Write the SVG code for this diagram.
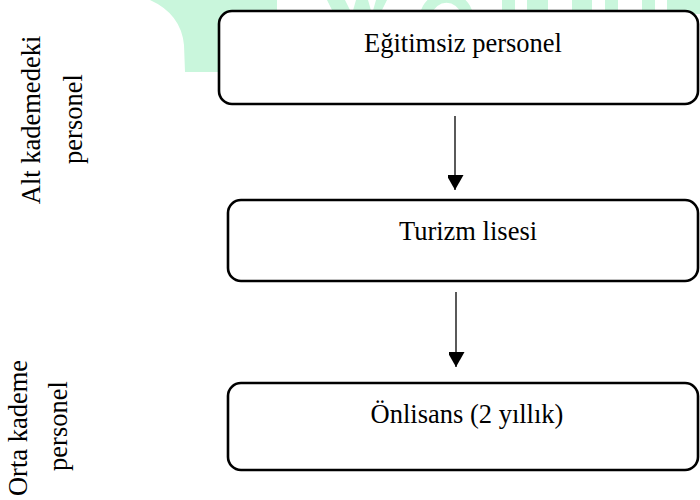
<svg xmlns="http://www.w3.org/2000/svg" width="700" height="500" viewBox="0 0 700 500">
<style>
.wm{fill:#c9f6dc;stroke:none}
.box{fill:#ffffff;stroke:#000000;stroke-width:2.6}
.t{font-family:"Liberation Serif","Times New Roman",serif;font-size:26.5px;fill:#000000;text-anchor:middle}
.conn{stroke:#000000;stroke-width:1.3;fill:none}
</style>
<defs>
<marker id="ah" markerUnits="userSpaceOnUse" markerWidth="18" markerHeight="16" refX="15" refY="8.5" orient="auto">
<path d="M0,0 L15,8.5 L0,17 Z" fill="#000000"/>
</marker>
</defs>
<g id="watermark">
<path class="wm" d="M150,0 Q181,14 184,45 L185,72 L277,72 L277,0 Z"/>
<path class="wm" d="M327,0 L345,0 L352,14 L356,0 L368,0 L372,14 L376,0 L387,0 L380,14 L334,14 Z"/>
<path class="wm" d="M420,14 A27,27 0 0 1 473,14 L461,14 A15,15 0 0 0 432,14 Z"/>
<rect class="wm" x="502" y="0" width="13" height="14"/>
<rect class="wm" x="527" y="0" width="21" height="14"/>
<rect class="wm" x="572" y="0" width="20" height="14"/>
<rect class="wm" x="605" y="0" width="13" height="14"/>
<rect class="wm" x="642" y="0" width="13" height="14"/>
<rect class="wm" x="667" y="0" width="33" height="14"/>
</g>
<g id="node-egitimsiz">
<rect class="box" x="219" y="11" width="479" height="93" rx="13"/>
<text class="t" x="463" y="52">Eğitimsiz personel</text>
</g>
<g id="node-turizm">
<rect class="box" x="228" y="200" width="470" height="81" rx="13"/>
<text class="t" x="468" y="240">Turizm lisesi</text>
</g>
<g id="node-onlisans">
<rect class="box" x="228" y="383" width="470" height="87" rx="13"/>
<text class="t" x="467" y="423">Önlisans (2 yıllık)</text>
</g>
<g id="label-alt">
<text class="t" transform="translate(40,120) rotate(-90)">Alt kademedeki</text>
<text class="t" transform="translate(82,119) rotate(-90)">personel</text>
</g>
<g id="label-orta">
<text class="t" transform="translate(27,428) rotate(-90)">Orta kademe</text>
<text class="t" transform="translate(67,426) rotate(-90)">personel</text>
</g>
<g id="connectors">
<line class="conn" x1="455" y1="116" x2="455" y2="190" marker-end="url(#ah)"/>
<line class="conn" x1="456" y1="292" x2="456" y2="367" marker-end="url(#ah)"/>
</g>
</svg>
